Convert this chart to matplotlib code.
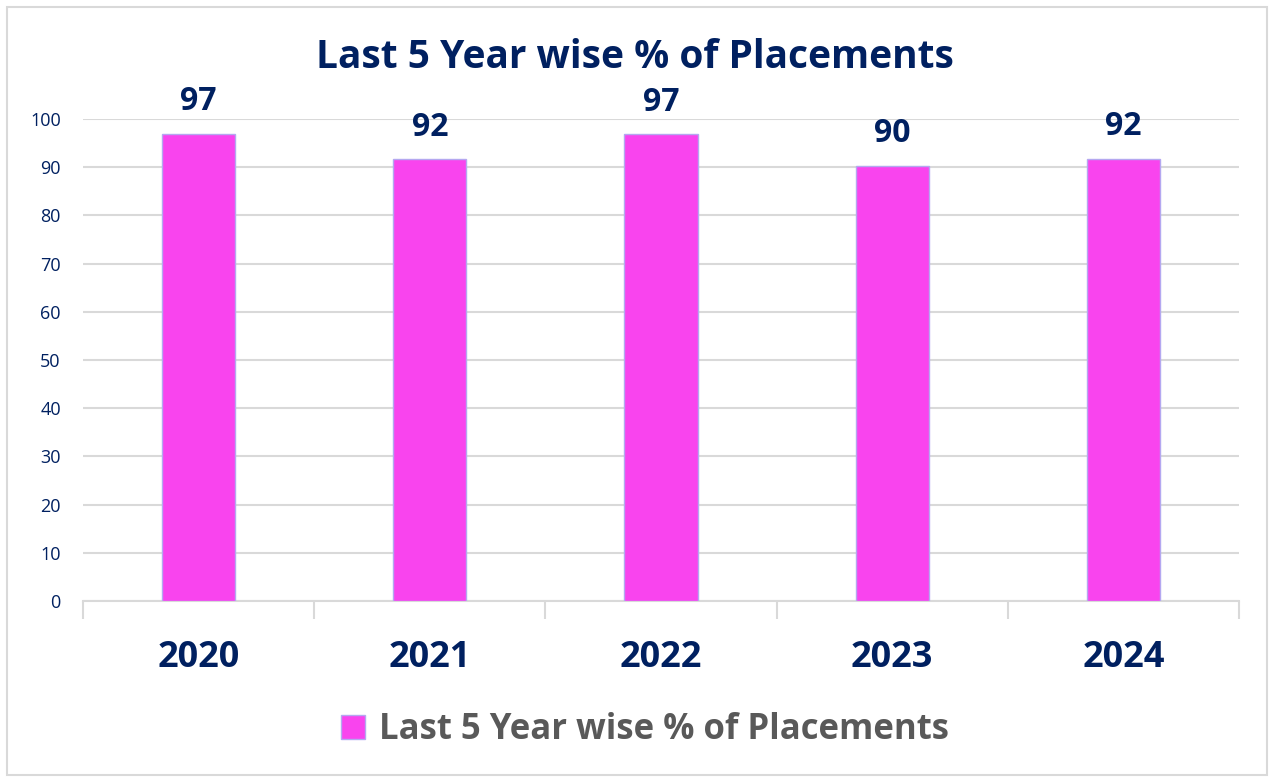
import matplotlib.pyplot as plt
from matplotlib.patches import Rectangle

years = ["2020", "2021", "2022", "2023", "2024"]
placement = [96.9, 91.6, 96.8, 90.2, 91.7]
labels = ["97", "92", "97", "90", "92"]
series_name = "Last 5 Year wise % of Placements"

navy = "#002060"
pink = "#F944EE"

plt.rcParams['font.family'] = ['Open Sans', 'DejaVu Sans']

fig = plt.figure(figsize=(12.69, 7.79), dpi=100)
ax = fig.add_axes([83/1269, 1-601/779, (1239-83)/1269, (601-119)/779])

x = list(range(len(years)))
bars = ax.bar(x, placement, width=0.316, color=pink, edgecolor="#B4A8F0", linewidth=1, zorder=3, label=series_name)
for xi, v, t in zip(x, placement, labels):
    ax.text(xi, v + 3.3, t, ha="center", va="bottom", fontsize=23, fontweight="bold", color=navy)

ax.set_xlim(-0.5, len(years) - 0.5)
ax.set_ylim(0, 100)
ax.set_yticks(range(0, 101, 10))
ax.yaxis.grid(True, color="#D9D9D9", linewidth=1.5, zorder=0)
ax.tick_params(axis="y", length=0, pad=16, labelsize=13, labelcolor=navy)

# category separators as ticks, labels in the middle
ax.set_xticks([i - 0.5 for i in range(len(years) + 1)])
ax.set_xticklabels([])
ax.set_xticks(x, minor=True)
ax.set_xticklabels(years, minor=True, fontsize=26, fontweight="bold", color=navy)
ax.tick_params(axis="x", which="major", length=13, width=1.5, color="#D9D9D9")
ax.tick_params(axis="x", which="minor", length=0, pad=28)

for s in ["top", "right", "left"]:
    ax.spines[s].set_visible(False)
ax.spines["bottom"].set_color("#D9D9D9")
ax.spines["bottom"].set_linewidth(1.5)

fig.text(0.50, 1-58/779, "Last 5 Year wise % of Placements", ha="center", va="center",
         fontsize=28, fontweight="bold", color=navy)

leg = fig.legend(handles=[bars], labels=[series_name], loc="center", bbox_to_anchor=(0.508, 1-730/779),
                 frameon=False, handlelength=0.7, handleheight=0.7, handletextpad=0.4,
                 prop={"size": 25, "weight": "bold"})
for t in leg.get_texts():
    t.set_color("#595959")

fig.patches.append(Rectangle((7/1269, 4/779), 1260/1269, 768/779, transform=fig.transFigure,
                             fill=False, edgecolor="#D9D9D9", linewidth=1.5))

plt.savefig("out.png", dpi=100)
